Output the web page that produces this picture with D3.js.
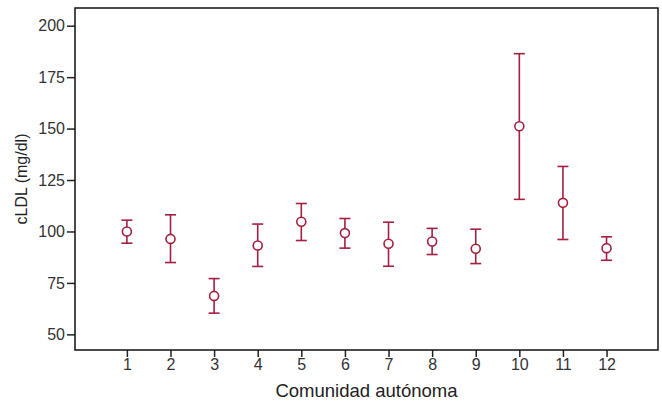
<!DOCTYPE html>
<html>
<head>
<meta charset="utf-8">
<script src="https://cdn.jsdelivr.net/npm/d3@7"></script>
<style>
  body { margin: 0; background: #fff; }
  text { font-family: "Liberation Sans", Arial, sans-serif; }
</style>
</head>
<body>
<script>
// values
var groups = [1,2,3,4,5,6,7,8,9,10,11,12]
var means  = [100.0, 96.4, 68.7, 93.2, 104.7, 99.2, 94.0, 95.1, 91.6, 151.1, 113.9, 91.9]
var upper  = [105.5, 108.1, 77.1, 103.6, 113.6, 106.3, 104.5, 101.5, 101.1, 186.4, 131.6, 97.4]
var lower  = [94.3, 84.9, 60.3, 83.0, 95.6, 91.9, 83.1, 88.8, 84.4, 115.6, 96.1, 86.0]
var yTicks = [50, 75, 100, 125, 150, 175, 200]

var W = 662, H = 405
var m = {left: 75, right: 4, top: 8, bottom: 55}
var red = '#a51f40'

var svg = d3.select('body').append('svg')
  .attr('width', W).attr('height', H)

var x = d3.scaleLinear().domain([-0.19, 13.18]).range([m.left, W - m.right])
var y = d3.scaleLinear().domain([42.4, 208.6]).range([H - m.bottom, m.top])

var xAxis = svg.append('g')
  .attr('transform', 'translate(0,' + (H - m.bottom) + ')')
  .call(d3.axisBottom(x).tickValues(groups).tickSize(7).tickPadding(2).tickSizeOuter(0))
var yAxis = svg.append('g')
  .attr('transform', 'translate(' + m.left + ',0)')
  .call(d3.axisLeft(y).tickValues(yTicks).tickSize(8).tickPadding(2).tickSizeOuter(0))

;[xAxis, yAxis].forEach(function(a){
  a.select('.domain').remove()
  a.selectAll('line').attr('stroke', '#222').attr('stroke-width', 1.5)
  a.selectAll('text').attr('fill', '#333').style('font-size', '16px')
})

// frame
svg.append('rect')
  .attr('x', m.left).attr('y', m.top)
  .attr('width', W - m.right - m.left).attr('height', H - m.bottom - m.top)
  .attr('fill', 'none').attr('stroke', '#111').attr('stroke-width', 1.5)

var cap = 5.5
var g = svg.append('g').attr('stroke', red).attr('stroke-width', 1.6).attr('fill', 'none')
groups.forEach(function(d, i){
  var cx = x(d)
  g.append('line').attr('x1', cx).attr('x2', cx).attr('y1', y(upper[i])).attr('y2', y(lower[i]))
  g.append('line').attr('x1', cx - cap).attr('x2', cx + cap).attr('y1', y(upper[i])).attr('y2', y(upper[i]))
  g.append('line').attr('x1', cx - cap).attr('x2', cx + cap).attr('y1', y(lower[i])).attr('y2', y(lower[i]))
  g.append('circle').attr('cx', cx).attr('cy', y(means[i])).attr('r', 4.5)
    .attr('fill', '#fff')
})

svg.append('text')
  .attr('x', (m.left + W - m.right) / 2).attr('y', 397)
  .attr('text-anchor', 'middle').attr('fill', '#222')
  .style('font-size', '18.5px')
  .text('Comunidad autónoma')

svg.append('text')
  .attr('transform', 'translate(27,' + ((m.top + H - m.bottom) / 2) + ') rotate(-90)')
  .attr('text-anchor', 'middle').attr('fill', '#222')
  .style('font-size', '16px')
  .text('cLDL (mg/dl)')
</script>
</body>
</html>
